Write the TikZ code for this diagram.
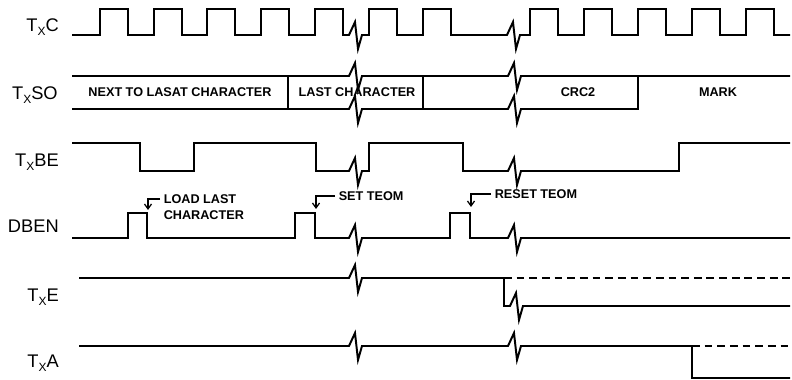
\documentclass[tikz,border=0pt]{standalone}
\usepackage{fontspec}
\setmainfont{Liberation Sans}
\usetikzlibrary{arrows.meta}
\tikzstyle{signal}=[line width=1.4pt,line join=miter]
\tikzstyle{future}=[signal,dash pattern=on 5.5pt off 3.5pt]
\tikzstyle{pointer}=[line width=0.9pt,-{Straight Barb[length=3.5pt,width=5pt]}]
\tikzstyle{signame}=[anchor=base east,inner sep=0pt,font=\fontsize{13}{15}\selectfont]
\tikzstyle{note}=[inner sep=2.5pt,font=\fontsize{9}{10}\selectfont\bfseries]
\newcommand{\Tx}[1]{T\raisebox{-0.35ex}{\fontsize{8.5}{9}\selectfont X}#1}
\newcommand{\brk}{-- ++(6,-13) -- ++(3,27) -- ++(4,-14)} % time break, 13 units wide
\newcommand{\clk}[1]{-- (#1,35) -- (#1,9) -- (#1+28,9) -- (#1+28,35)} % one clock pulse starting at #1

\begin{document}
\begin{tikzpicture}[x=0.025cm,y=-0.025cm]
	\useasboundingbox (0,0) rectangle (792,380);
	% signal names
	\node[signame] (txc) at (59,32) {\Tx{C}};
	\node[signame] (txso) at (58,100) {\Tx{SO}};
	\node[signame] (txbe) at (59,167) {\Tx{BE}};
	\node[signame] (dben) at (59,233) {DBEN};
	\node[signame] (txe) at (59,302) {\Tx{E}};
	\node[signame] (txa) at (59,368) {\Tx{A}};
	% clock
	\draw[signal] (72,35) \foreach \r in {100,154,207,261,315}{\clk{\r}} -- (349,35) \brk
		\foreach \r in {369,423}{\clk{\r}} -- (507,35) \brk
		\foreach \r in {530,584,638,692,746}{\clk{\r}} -- (790,35);
	% serial data out
	\draw[signal] (72,76) -- (349,76) \brk -- (508,76) \brk -- (790,76);
	\draw[signal] (72,109) -- (349,109) \brk -- (508,109) \brk -- (638,109) -- (638,76);
	\draw[signal] (288,76) -- (288,109);
	\draw[signal] (423,76) -- (423,109);
	\node[note] (nextchar) at (180,92) {NEXT TO LASAT CHARACTER};
	\node[note] (lastchar) at (357,92) {LAST CHARACTER};
	\node[note] (crc) at (578,92) {CRC2};
	\node[note] (mark) at (718,92) {MARK};
	% buffer empty
	\draw[signal] (72,143) -- (140,143) -- (140,171) -- (194,171) -- (194,143) -- (316,143) -- (316,171)
		-- (349,171) \brk -- (369,171) -- (369,143) -- (463,143) -- (463,171) -- (508,171) \brk
		-- (679,171) -- (679,143) -- (790,143);
	% data bus enable
	\draw[signal] (72,238) -- (128,238) -- (128,213) -- (147,213) -- (147,238) -- (295,238) -- (295,213)
		-- (315,213) -- (315,238) -- (349,238) \brk -- (450,238) -- (450,213) -- (470,213) -- (470,238)
		-- (508,238) \brk -- (790,238);
	\node[note,anchor=west] (load) at (160,199) {LOAD LAST};
	\node[note,anchor=west] (loadb) at (160,215) {CHARACTER};
	\node[note,anchor=west] (set) at (335,196) {SET TEOM};
	\node[note,anchor=west] (reset) at (491,194) {RESET TEOM};
	\coordinate (e1) at (148,210);
	\coordinate (e2) at (316,209);
	\coordinate (e3) at (471,207);
	\draw[pointer] (load.west) -| (e1);
	\draw[pointer] (set.west) -| (e2);
	\draw[pointer] (reset.west) -| (e3);
	% TxE and TxA
	\draw[signal] (79,278) -- (349,278) \brk -- (504,278) -- (504,306) -- (510,306) \brk -- (790,306);
	\draw[future] (504,278) -- (790,278);
	\draw[signal] (79,346) -- (349,346) \brk -- (508,346) \brk -- (692,346) -- (692,378) -- (790,378);
	\draw[future] (692,346) -- (790,346);
\end{tikzpicture}
\end{document}
